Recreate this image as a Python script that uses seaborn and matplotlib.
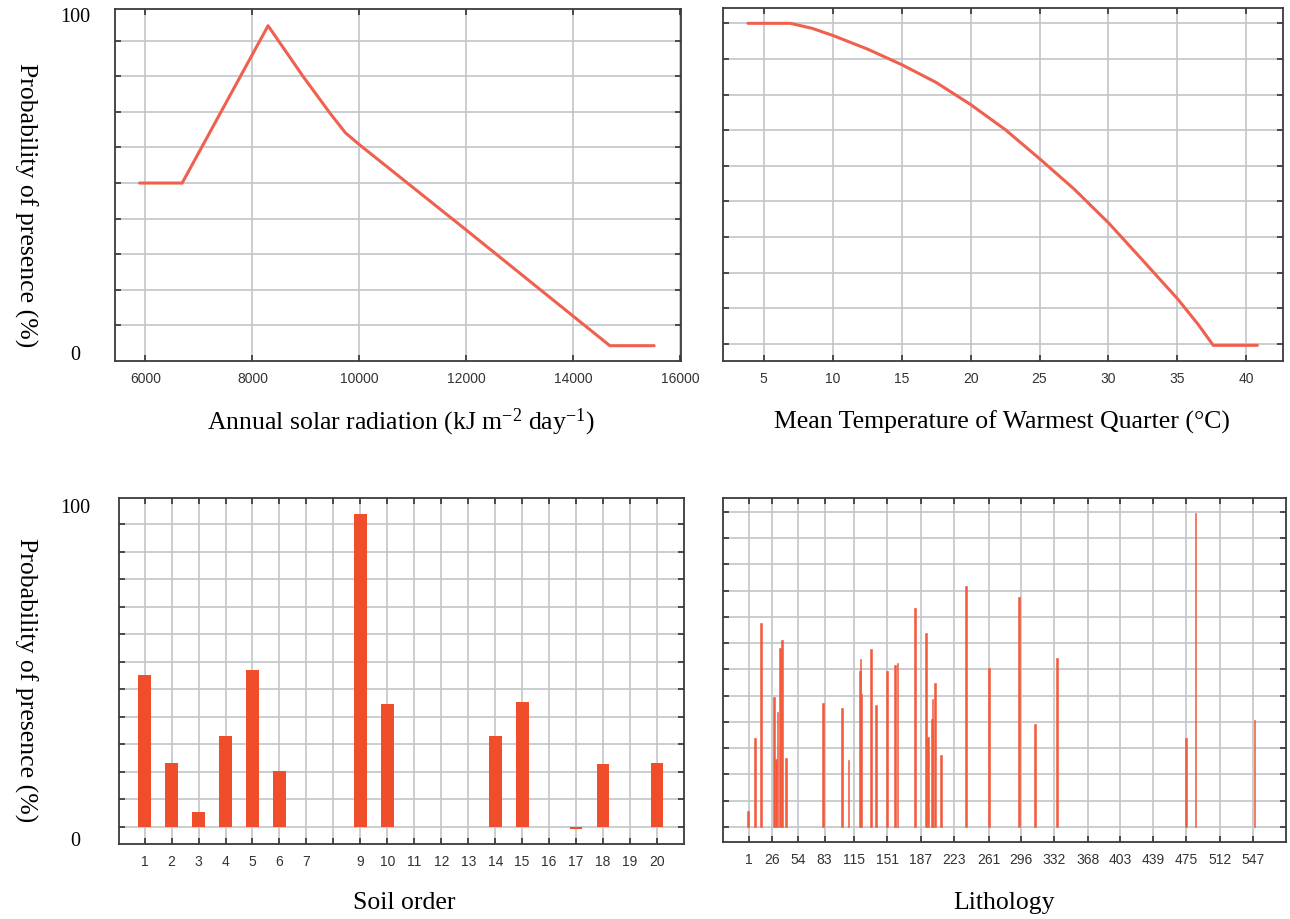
import matplotlib
matplotlib.use("Agg")
import matplotlib.pyplot as plt
import seaborn as sns
import numpy as np
import pandas as pd

# ---------------- data ----------------
solar_x = [5891, 6686, 8293, 8946, 9448, 9741, 10000, 12000, 14686, 15515]
solar_y = [50.0, 50.0, 94.2, 80.0, 69.7, 64.1, 60.8, 36.8, 4.3, 4.3]

temp_x = [3.85, 6.92, 8.5, 10, 12.5, 15, 17.5, 20, 22.5, 25, 27.5, 30, 32.5, 35, 36.5, 37.6, 40.8]
temp_y = [100, 100, 98.6, 96.6, 92.8, 88.4, 83.4, 77.2, 70.2, 62.0, 53.5, 44.0, 33.4, 22.7, 15.5, 9.6, 9.6]

soil_order = list(range(1, 21))
soil_prob = [55.2, 23.0, 5.5, 33.1, 57.0, 20.4, 0, 0, 113.9, 44.6,
             0, 0, 0, 33.1, 45.5, 0, -0.8, 22.7, 0, 23.0]
soil_ticklabels = [str(i) if i != 8 else "" for i in soil_order]

lith_code = [0, 8, 14, 28, 30, 32, 35, 37, 41, 81, 102, 109, 121, 122, 123, 133,
             139, 151, 159, 162, 181, 193, 195, 199, 200, 203, 209, 236, 261,
             294, 311, 335, 475, 485, 549]
lith_prob = [6.2, 33.8, 77.6, 49.4, 25.9, 43.7, 68.1, 71.1, 26.2, 47.0, 45.2, 25.3,
             59.2, 63.9, 50.6, 67.6, 46.3, 59.2, 61.5, 62.4, 83.3, 74.0, 34.2, 41.1,
             48.7, 54.8, 27.5, 91.8, 60.5, 87.5, 39.2, 64.3, 33.8, 119.4, 40.6]
lith_ticks = [1, 26, 54, 83, 115, 151, 187, 223, 261, 296, 332, 368, 403, 439, 475, 512, 547]

solar_ticks = [6000, 8000, 10000, 12000, 14000, 16000]
temp_ticks = [5, 10, 15, 20, 25, 30, 35, 40]

ylabel = "Probability of presence (%)"
xlabel_solar = r"Annual solar radiation (kJ m$^{\mathregular{-2}}$ day$^{\mathregular{-1}}$)"
xlabel_temp = "Mean Temperature of Warmest Quarter (°C)"
xlabel_soil = "Soil order"
xlabel_lith = "Lithology"

# ---------------- style ----------------
sns.set_theme(style="white")
plt.rcParams["font.family"] = ["Liberation Sans", "DejaVu Sans"]
plt.rcParams["mathtext.fontset"] = "custom"
plt.rcParams["mathtext.rm"] = "Liberation Serif"
plt.rcParams["mathtext.it"] = "Liberation Serif:italic"

LINE_C = "#F0604F"
BAR_C = "#F04E2A"
LITH_C = "#F25A3C"
GRID_C = "#C2C6CA"
SERIF = ["Liberation Serif", "DejaVu Serif"]

W, H = 1290, 920
fig = plt.figure(figsize=(12.9, 9.2), dpi=100)


def add_ax(l, t, r, b):
    return fig.add_axes([l / W, 1 - b / H, (r - l) / W, (b - t) / H])


def style(ax, xticks, xlabels, yticks, xlim, ylim):
    ax.set_xlim(*xlim)
    ax.set_ylim(*ylim)
    ax.set_xticks(xticks)
    ax.set_xticklabels(xlabels)
    ax.set_yticks(yticks)
    ax.set_yticklabels([])
    ax.grid(True, color=GRID_C, linewidth=1.2)
    ax.set_axisbelow(True)
    ax.tick_params(direction="in", length=4, width=1.2, color="#333333",
                   top=True, right=True, left=True, bottom=True,
                   labelsize=10, labelcolor="#333333", pad=7.5)
    for s in ax.spines.values():
        s.set_color("#3A3A3A")
        s.set_linewidth(1.3)
        s.set_visible(True)
    ax.set_xlabel("")
    ax.set_ylabel("")


def ftext(x, y, s, size, **kw):
    fig.text(x / W, 1 - y / H, s, ha="center", va="center",
             family=SERIF, size=size, color="black", **kw)


# top-left: solar radiation
ax1 = add_ax(115, 10, 681, 362)
sns.lineplot(x=solar_x, y=solar_y, ax=ax1, color=LINE_C, linewidth=2.2,
             sort=False, estimator=None)
style(ax1, solar_ticks, [str(t) for t in solar_ticks], list(range(10, 100, 10)),
      (5430, 16017), (0, 98.9))

# top-right: temperature
ax2 = add_ax(723, 9, 1283, 362)
sns.lineplot(x=temp_x, y=temp_y, ax=ax2, color=LINE_C, linewidth=2.2,
             sort=False, estimator=None)
style(ax2, temp_ticks, [str(t) for t in temp_ticks], list(range(10, 101, 10)),
      (2.04, 42.66), (5.2, 104.3))

# bottom-left: soil order
ax3 = add_ax(119, 499, 684, 845)
sns.barplot(x=soil_order, y=soil_prob, ax=ax3, native_scale=True, width=0.47,
            color=BAR_C, saturation=1, errorbar=None, linewidth=0)
style(ax3, soil_order, soil_ticklabels, list(range(0, 111, 10)),
      (0.05, 21.0), (-6.3, 119.6))

# bottom-right: lithology
ax4 = add_ax(723, 499, 1286, 843)
sns.barplot(x=lith_code, y=lith_prob, ax=ax4, native_scale=True, width=2.0,
            color=LITH_C, saturation=1, errorbar=None,
            edgecolor=LITH_C, linewidth=0.4)
style(ax4, lith_ticks, [str(t) for t in lith_ticks], list(range(0, 121, 10)),
      (-27.1, 583.1), (-5.8, 125.3))

# axis texts
ftext(26, 205, ylabel, 18.5, rotation=-90)
ftext(26, 680, ylabel, 18.5, rotation=-90)
ftext(75, 18, "100", 14.5)
ftext(75, 355, "0", 14.5)
ftext(75, 509, "100", 14.5)
ftext(75, 842, "0", 14.5)
ftext(401, 422, xlabel_solar, 18.5)
ftext(1002, 422, xlabel_temp, 18.5)
ftext(404, 903, xlabel_soil, 18.5)
ftext(1004, 903, xlabel_lith, 18.5)

fig.savefig("out.png", dpi=100, facecolor="white")
